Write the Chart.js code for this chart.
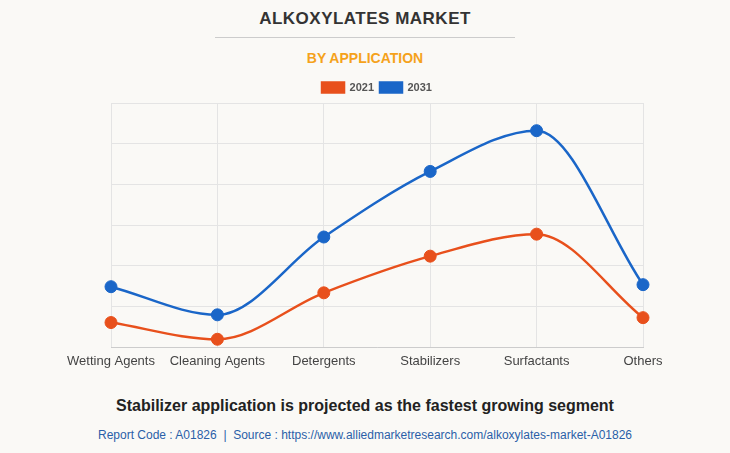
<!DOCTYPE html>
<html>
<head>
<meta charset="utf-8">
<script src="https://cdn.jsdelivr.net/npm/chart.js@4"></script>
<style>
  body { margin: 0; background: #faf9f6; font-family: Arial, "Liberation Sans", sans-serif; }
  #wrap { position: relative; width: 730px; height: 453px; }
  .t { position: absolute; left: 0; width: 730px; text-align: center; }
  #title { top: 9px; font-size: 17px; font-weight: bold; color: #333; letter-spacing: 0.5px; }
  #rule { position: absolute; top: 37px; left: 215px; width: 300px; border-top: 1px solid #ccc; }
  #sub { top: 50px; font-size: 14px; font-weight: bold; color: #f5a21b; }
  #box { position: absolute; top: 76px; left: 0; width: 730px; height: 299px; }
  #foot { top: 397px; font-size: 16px; font-weight: bold; color: #222; }
  #src { top: 428px; font-size: 12px; color: #2a5fa8; }
</style>
</head>
<body>
<div id="wrap">
  <div class="t" id="title">ALKOXYLATES MARKET</div>
  <div id="rule"></div>
  <div class="t" id="sub">BY APPLICATION</div>
  <div id="box"><canvas id="chart"></canvas></div>
  <div class="t" id="foot">Stabilizer application is projected as the fastest growing segment</div>
  <div class="t" id="src">Report Code : A01826 &nbsp;|&nbsp; Source : https://www.alliedmarketresearch.com/alkoxylates-market-A01826</div>
</div>
<script>
const categories = ["Wetting Agents", "Cleaning Agents", "Detergents", "Stabilizers", "Surfactants", "Others"];
const values2021 = [0.61, 0.20, 1.34, 2.24, 2.78, 0.73];
const values2031 = [1.49, 0.80, 2.71, 4.32, 5.32, 1.54];

new Chart(document.getElementById("chart"), {
    type: "line",
    data: {
        labels: categories,
        datasets: [
            { label: "2021", data: values2021, borderColor: "#e8501c", backgroundColor: "#e8501c" },
            { label: "2031", data: values2031, borderColor: "#1a66c8", backgroundColor: "#1a66c8" },
        ],
    },
    options: {
        responsive: true,
        maintainAspectRatio: false,
        animation: false,
        layout: { padding: { left: 111, right: 87, top: 0, bottom: 0 } },
        elements: {
            line: { borderWidth: 2.5, tension: 0.4, cubicInterpolationMode: "monotone" },
            point: { radius: 6, hoverRadius: 6 },
        },
        scales: {
            x: {
                offset: false,
                grid: { color: "#e4e4e4", drawTicks: false },
                border: { color: "#ccc" },
                ticks: { color: "#444", font: { size: 13 }, padding: 6 },
            },
            y: {
                min: 0,
                max: 6,
                grid: { color: "#e4e4e4", drawTicks: false },
                border: { display: false },
                ticks: { stepSize: 1, display: false },
            },
        },
        plugins: {
            legend: {
                labels: { boxWidth: 22, boxHeight: 10, color: "#555", font: { size: 11, weight: "bold" }, padding: 6 },
            },
            tooltip: { enabled: false },
        },
    },
});
</script>
</body>
</html>
